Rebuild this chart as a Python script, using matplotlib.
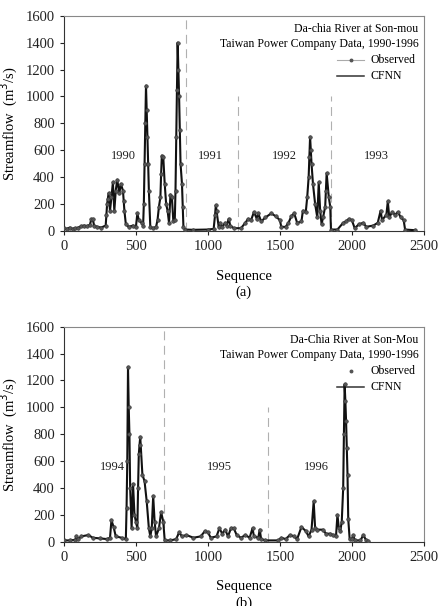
import numpy as np
import matplotlib
matplotlib.use("Agg")
import matplotlib.pyplot as plt

plt.rcParams['font.family'] = ['Liberation Serif', 'DejaVu Serif']

# ---- panel (a): 1990-1993 ----
seq_a = [0, 20, 40, 60, 80, 100, 120, 140, 160, 180, 190, 200, 210, 230, 260, 290,
         295, 300, 305, 310, 320, 330, 340, 350, 360, 370, 385, 395, 410, 415, 420,
         430, 450, 480, 500, 510, 520, 540, 550, 555, 560, 565, 570, 575, 580, 585,
         590, 600, 620, 640, 650, 660, 670, 675, 680, 690, 700, 710, 720, 730, 740,
         750, 760, 770, 775, 780, 785, 790, 795, 800, 805, 810, 820, 825, 830, 840,
         900, 1000, 1040, 1050, 1055, 1060, 1075, 1085, 1100, 1120, 1130, 1145,
         1155, 1180, 1230, 1260, 1280, 1300, 1320, 1340, 1350, 1370, 1400, 1440,
         1470, 1500, 1510, 1540, 1560, 1580, 1600, 1620, 1650, 1660, 1680, 1690,
         1700, 1705, 1710, 1715, 1720, 1730, 1745, 1760, 1770, 1780, 1790, 1800,
         1815, 1820, 1825, 1840, 1850, 1855, 1900, 1940, 1960, 1980, 2000, 2020,
         2050, 2080, 2100, 2150, 2180, 2200, 2210, 2240, 2250, 2260, 2280, 2300,
         2320, 2340, 2360, 2370, 2440]
flow_a = [20, 15, 25, 15, 20, 25, 35, 40, 35, 45, 85, 85, 40, 30, 25, 40,
          120, 200, 240, 280, 150, 250, 360, 150, 300, 380, 280, 350, 300, 220, 150,
          50, 30, 40, 30, 130, 80, 60, 40, 200, 500, 800, 1080, 900, 700, 500,
          300, 30, 20, 30, 80, 180, 250, 420, 560, 550, 350, 200, 150, 60, 270,
          250, 70, 80, 300, 700, 1050, 1400, 1200, 1000, 750, 500, 350, 180, 30, 10,
          8, 10, 15, 120, 190, 150, 30, 60, 30, 60, 40, 90,
          40, 20, 20, 60, 90, 80, 140, 90, 130, 70, 100, 130,
          110, 80, 30, 30, 60, 110, 130, 60, 70, 150, 140, 250,
          400, 550, 700, 600, 500, 350, 200, 100, 360, 150, 50, 100,
          180, 300, 430, 250, 180, 10, 10, 60, 70, 90, 80, 20,
          50, 60, 30, 40, 60, 150, 80, 120, 220, 100, 140, 120,
          140, 100, 80, 10, 5]

# ---- panel (b): 1994-1996 ----
seq_b = [0, 40, 80, 85, 100, 120, 170, 200, 250, 300, 320, 330, 345, 360, 400, 430,
         435, 440, 445, 450, 455, 460, 470, 480, 490, 500, 510, 515, 520, 525, 530,
         545, 560, 575, 590, 600, 610, 620, 630, 640, 660, 675, 690, 700, 740, 780,
         800, 820, 850, 900, 950, 980, 1000, 1020, 1060, 1080, 1100, 1120, 1140,
         1160, 1180, 1200, 1230, 1260, 1290, 1310, 1320, 1350, 1360, 1370, 1400,
         1490, 1510, 1540, 1570, 1600, 1620, 1650, 1680, 1700, 1720, 1735, 1745,
         1760, 1800, 1820, 1850, 1870, 1890, 1900, 1910, 1920, 1930, 1940, 1945,
         1950, 1955, 1960, 1965, 1970, 1975, 1985, 2000, 2010, 2020, 2060, 2080,
         2100, 2110]
flow_b = [10, 10, 15, 40, 20, 40, 50, 30, 25, 20, 30, 160, 110, 40, 30, 20,
          250, 600, 1300, 1000, 800, 400, 100, 430, 200, 150, 100, 400, 650, 720, 780,
          500, 450, 300, 100, 40, 100, 340, 150, 40, 100, 220, 150, 10, 10, 20,
          70, 40, 50, 30, 40, 80, 70, 30, 40, 100, 60, 90, 40,
          100, 100, 50, 30, 50, 30, 100, 40, 30, 90, 20, 10,
          10, 30, 20, 50, 40, 20, 110, 80, 40, 90, 300, 100,
          90, 90, 60, 60, 50, 40, 200, 100, 80, 150, 400, 800,
          1170, 1050, 900, 700, 500, 170, 20, 20, 50, 10, 10, 50,
          10, 5]

xticks = [0, 500, 1000, 1500, 2000, 2500]
yticks = [0, 200, 400, 600, 800, 1000, 1200, 1400, 1600]

panels = [
    dict(seq=seq_a, flow=flow_a, rect=[0.145, 0.619, 0.816, 0.355],
         title1="Da-chia River at Son-mou", obs_line=True, tag="(a)",
         vlines=[(845, 1600), (1210, 1000), (1852, 1000)],
         years=[(410, "1990"), (1019, "1991"), (1535, "1992"), (2171, "1993")]),
    dict(seq=seq_b, flow=flow_b, rect=[0.145, 0.106, 0.816, 0.355],
         title1="Da-Chia River at Son-Mou", obs_line=False, tag="(b)",
         vlines=[(697, 1600), (1419, 1000)],
         years=[(335, "1994"), (1078, "1995"), (1755, "1996")]),
]

fig = plt.figure(figsize=(4.41, 6.06), dpi=100)

for p in panels:
    ax = fig.add_axes(p["rect"])
    for xv, top in p["vlines"]:
        ax.plot([xv, xv], [0, top], color="#b0b0b0", lw=0.8, ls=(0, (8, 5)))
    ax.plot(p["seq"], p["flow"], color="#111111", lw=1.5, zorder=3)
    ax.plot(p["seq"], p["flow"], ls="none", marker="o", ms=2.6, mfc="#555555",
            mec="#333333", mew=0.4, zorder=4)
    for xv, lab in p["years"]:
        ax.text(xv, 555, lab, ha="center", va="center", fontsize=9, color="#222222")

    ax.set_xlim(0, 2500)
    ax.set_ylim(0, 1600)
    ax.set_xticks(xticks)
    ax.set_yticks(yticks)
    ax.tick_params(direction="out", length=3, labelsize=10.5, colors="#222222")
    for s in ["left", "bottom"]:
        ax.spines[s].set_color("#333333")
    for s in ["top", "right"]:
        ax.spines[s].set_color("#888888")
    ax.set_ylabel("Streamflow  (m$^3$/s)", fontsize=10.5, labelpad=4)
    ax.set_xlabel("Sequence\n" + p["tag"], fontsize=10.5, labelpad=12, linespacing=1.25)

    # annotation block
    ax.text(0.985, 0.965, p["title1"], transform=ax.transAxes, ha="right",
            va="top", fontsize=8.5)
    ax.text(0.985, 0.895, "Taiwan Power Company Data, 1990-1996",
            transform=ax.transAxes, ha="right", va="top", fontsize=8.5)
    # legend entries drawn manually
    tx = 0.852
    y1, y2 = 0.795, 0.72
    if p["obs_line"]:
        ax.plot([0.76, 0.835], [y1, y1], transform=ax.transAxes, color="#aaaaaa", lw=0.8)
    ax.plot([0.7975], [y1], transform=ax.transAxes, marker="o", ms=1.8, color="#555555")
    ax.plot([0.76, 0.835], [y2, y2], transform=ax.transAxes, color="#333333", lw=1.1)
    ax.text(tx, y1, "Observed", transform=ax.transAxes, ha="left", va="center", fontsize=8.5)
    ax.text(tx, y2, "CFNN", transform=ax.transAxes, ha="left", va="center", fontsize=8.5)

fig.savefig("out.png", dpi=100)
